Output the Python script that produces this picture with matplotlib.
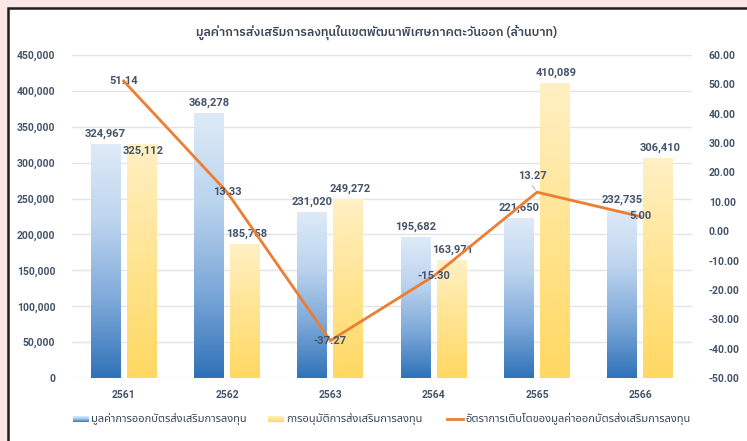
import matplotlib
matplotlib.use("Agg")
import matplotlib.pyplot as plt
import numpy as np
from matplotlib.patches import Rectangle
from matplotlib.colors import LinearSegmentedColormap

# ---------------- data ----------------
years = ["2561", "2562", "2563", "2564", "2565", "2566"]
issued = [324967, 368278, 231020, 195682, 221650, 232735]
approved = [325112, 185758, 249272, 163971, 410089, 306410]
growth = [51.14, 13.33, -37.27, -15.30, 13.27, 5.00]
left_ticks = [0, 50000, 100000, 150000, 200000, 250000, 300000, 350000, 400000, 450000]
right_ticks = [-50, -40, -30, -20, -10, 0, 10, 20, 30, 40, 50, 60]
title = "มูลค่าการส่งเสริมการลงทุนในเขตพัฒนาพิเศษภาคตะวันออก (ล้านบาท)"
legend_labels = ["มูลค่าการออกบัตรส่งเสริมการลงทุน",
                 "การอนุมัติการส่งเสริมการลงทุน",
                 "อัตราการเติบโตของมูลค่าออกบัตรส่งเสริมการลงทุน"]

plt.rcParams["font.family"] = ["Noto Sans Thai", "DejaVu Sans"]
NUMF = ["Roboto", "DejaVu Sans"]
TITLEF = ["IBM Plex Sans Thai", "Noto Sans Thai", "DejaVu Sans"]
THAIF = ["Noto Sans Thai", "DejaVu Sans"]

TXT = "#44546a"
W, H = 747, 441
fig = plt.figure(figsize=(W / 100, H / 100), dpi=100)
fig.patch.set_facecolor("#fde6e6")

# white panel with black frame
fig.patches.append(Rectangle((8 / W, -0.05), 1.1, 1 - 8 / H + 0.05,
                             transform=fig.transFigure, facecolor="white",
                             edgecolor="#1e1e1e", linewidth=1.8, zorder=-5))

ax = fig.add_axes([72 / W, 1 - 378 / H, 620 / W, 323 / H])
ax.set_facecolor("none")
ax2 = ax.twinx()

x = np.arange(len(years))
bw = 0.29
off = 0.175

blue_cmap = LinearSegmentedColormap.from_list("b", ["#2f72b8", "#7ea9d9", "#bcd4ee", "#deeaf7"])
yel_cmap = LinearSegmentedColormap.from_list("y", ["#ffd862", "#ffe491", "#fff0c4"])
grad = np.linspace(0, 1, 256).reshape(-1, 1)

b1 = ax.bar(x - off, issued, bw, color="none", zorder=2)
b2 = ax.bar(x + off, approved, bw, color="none", zorder=2)
for bars, cmap in ((b1, blue_cmap), (b2, yel_cmap)):
    for r in bars:
        x0, w, h = r.get_x(), r.get_width(), r.get_height()
        ax.imshow(grad, cmap=cmap, origin="lower", aspect="auto",
                  extent=(x0, x0 + w, 0, h), zorder=2, interpolation="bicubic")

ax.set_xlim(-0.5, len(years) - 0.5)
ax.set_ylim(0, 450000)
ax.set_yticks(left_ticks)
ax.set_yticklabels([f"{v:,}" for v in left_ticks])
ax.set_xticks(x)
ax.set_xticklabels(years)
ax.grid(axis="y", color="#e2e4ea", linewidth=1.0, zorder=0)
ax.set_axisbelow(True)
for s in ax.spines.values():
    s.set_visible(False)
for s in ax2.spines.values():
    s.set_visible(False)
ax.tick_params(length=0, labelsize=7.5, labelcolor=TXT, pad=12)
ax.tick_params(axis="x", pad=9)

ax2.plot(x, growth, color="#ed7d31", linewidth=2.0, zorder=5)
ax2.set_ylim(-50, 60)
ax2.set_yticks(right_ticks)
ax2.set_yticklabels([f"{v:.2f}" for v in right_ticks])
ax2.tick_params(length=0, labelsize=7.5, labelcolor=TXT, pad=12)
for t in ax.get_xticklabels() + ax.get_yticklabels() + ax2.get_yticklabels():
    t.set_fontweight("bold")
    t.set_family(NUMF)

# bar labels
lab_kw = dict(ha="center", va="bottom", fontsize=8, color=TXT, fontweight="bold", family=NUMF)
bar_offsets_issued = [4, 4, 4, 4, 4, 4]
bar_offsets_approved = [-8, 4, 4, 4, 4, 4]
for i, v in enumerate(issued):
    ax.annotate(f"{v:,}", (x[i] - off, v), xytext=(0, bar_offsets_issued[i]),
                textcoords="offset points", zorder=6, **lab_kw)
for i, v in enumerate(approved):
    ax.annotate(f"{v:,}", (x[i] + off, v), xytext=(1, bar_offsets_approved[i]),
                textcoords="offset points", zorder=6, **lab_kw)

# line labels
line_offsets = [(0, 0), (0, 0), (0, 0), (0, 0), (-3, 12), (0, 0)]
for i, v in enumerate(growth):
    dx, dy = line_offsets[i]
    ax2.annotate(f"{v:.2f}", (x[i], v), xytext=(dx, dy), textcoords="offset points",
                 ha="center", va="center", fontsize=8, color=TXT, fontweight="bold",
                 family=NUMF, zorder=7)
ax2.annotate("", (x[4], growth[4]), xytext=(x[4] - 0.06, growth[4] + 3),
             arrowprops=dict(arrowstyle="-", color="#a6a6a6", lw=0.6), zorder=6)

# title
fig.text(377 / W, 1 - 32 / H, title, ha="center", va="center", fontsize=8.8,
         color="#3b4656", fontweight="semibold", family=TITLEF)

# legend (manual)
ly = 1 - 419 / H
def grad_patch(x0, cmap):
    a = fig.add_axes([x0 / W, 1 - 422 / H, 16 / W, 6 / H])
    a.imshow(grad, cmap=cmap, origin="lower", aspect="auto", extent=(0, 1, 0, 1))
    a.set_axis_off()
grad_patch(73, blue_cmap)
grad_patch(268, yel_cmap)
fig.add_artist(plt.Line2D([447 / W, 463 / W], [1 - 419 / H] * 2, color="#ed7d31",
                          linewidth=2.0, transform=fig.transFigure))
for xx, lab in zip([91, 286, 465], legend_labels):
    fig.text(xx / W, ly, lab, ha="left", va="center", fontsize=8, color="#3b4656",
             family=THAIF)

fig.savefig("out.png", dpi=100)
